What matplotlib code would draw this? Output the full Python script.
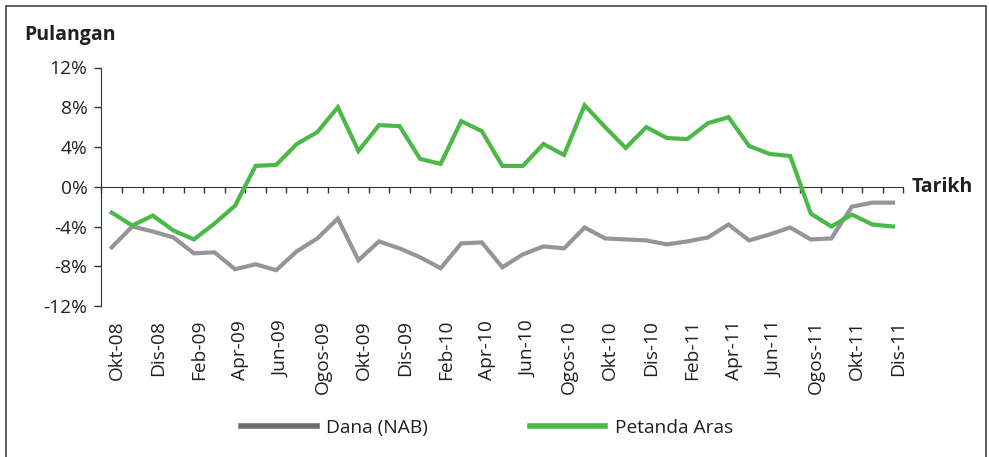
import matplotlib.pyplot as plt
from matplotlib.patches import Rectangle
from matplotlib.lines import Line2D
import matplotlib.transforms as mtransforms
import numpy as np

plt.rcParams['font.family'] = ['Open Sans', 'DejaVu Sans']

# monthly returns, Okt-08 .. Dis-11
months = ['Okt-08', 'Nov-08', 'Dis-08', 'Jan-09', 'Feb-09', 'Mac-09', 'Apr-09', 'Mei-09',
          'Jun-09', 'Jul-09', 'Ogos-09', 'Sep-09', 'Okt-09', 'Nov-09', 'Dis-09', 'Jan-10',
          'Feb-10', 'Mac-10', 'Apr-10', 'Mei-10', 'Jun-10', 'Jul-10', 'Ogos-10', 'Sep-10',
          'Okt-10', 'Nov-10', 'Dis-10', 'Jan-11', 'Feb-11', 'Mac-11', 'Apr-11', 'Mei-11',
          'Jun-11', 'Jul-11', 'Ogos-11', 'Sep-11', 'Okt-11', 'Nov-11', 'Dis-11']
dana = [-6.1, -4.0, -4.5, -5.1, -6.7, -6.6, -8.3, -7.8, -8.4, -6.5, -5.2, -3.2, -7.4,
        -5.5, -6.2, -7.1, -8.2, -5.7, -5.6, -8.1, -6.8, -6.0, -6.2, -4.1, -5.2, -5.3,
        -5.4, -5.8, -5.5, -5.1, -3.8, -5.4, -4.8, -4.1, -5.3, -5.2, -2.0, -1.6, -1.6]
petanda = [-2.6, -3.9, -2.9, -4.4, -5.3, -3.7, -1.9, 2.1, 2.2, 4.3, 5.5, 8.0, 3.6,
           6.2, 6.1, 2.8, 2.3, 6.6, 5.6, 2.1, 2.1, 4.3, 3.2, 8.2, 6.0, 3.9, 6.0, 4.9,
           4.8, 6.4, 7.0, 4.1, 3.3, 3.1, -2.7, -4.0, -2.8, -3.8, -4.0]
yticks = [-12, -8, -4, 0, 4, 8, 12]

grey = '#939598'
grey_dark = '#6d6e71'
green = '#4cb847'
txt = '#231f20'
fs = 13.8

W, H = 989, 457
fig = plt.figure(figsize=(W / 100, H / 100), dpi=100)
ax = fig.add_axes([101.4 / W, 1 - 306 / H, (903.3 - 101.4) / W, (306 - 67.5) / H])

x = np.arange(len(months))
ax.plot(x, dana, color=grey, lw=3, solid_joinstyle='miter', zorder=3)
ax.plot(x, petanda, color=green, lw=3, solid_joinstyle='miter', zorder=3)

ax.set_xlim(-0.5, len(months) - 0.5)
ax.set_ylim(-12, 12)
ax.set_yticks(yticks)
ax.set_yticklabels([f'{v}%' for v in yticks], fontsize=fs, color=txt)
ax.tick_params(axis='y', length=5, width=1, color='#333333', pad=5)

for s in ['top', 'right']:
    ax.spines[s].set_visible(False)
ax.spines['left'].set_color('#333333')
ax.spines['bottom'].set_position(('data', 0))
ax.spines['bottom'].set_color('#333333')
ax.set_xticks(np.arange(len(months) + 1) - 0.5)
ax.set_xticklabels([])
ax.tick_params(axis='x', direction='out', length=4, width=1, color='#333333')

# category labels below the plot, every second month
trans = mtransforms.blended_transform_factory(ax.transData, fig.transFigure)
for i in range(0, len(months), 2):
    ax.text(i + 0.25, 1 - 320 / H, months[i], rotation=90, ha='center', va='top',
            fontsize=fs, color=txt, transform=trans)

fig.text(24 / W, 1 - 35 / H, 'Pulangan', fontsize=14, fontweight='bold', color=txt, va='center')
fig.text(912 / W, 1 - 187 / H, 'Tarikh', fontsize=14, fontweight='bold', color=txt, va='center')

# legend
handles = [Line2D([], [], color=grey_dark, lw=4), Line2D([], [], color=green, lw=4)]
fig.legend(handles, ['Dana (NAB)', 'Petanda Aras'], loc='center', ncol=2,
           bbox_to_anchor=(487 / W, 1 - 428 / H), frameon=False, fontsize=fs,
           handlelength=3.95, columnspacing=5.3, handletextpad=0.5, labelcolor=txt)

fig.patches.append(Rectangle((5.5 / W, -0.1), (986 - 5.5) / W, 1.1 - 6 / H + 0.0,
                             transform=fig.transFigure, fill=False, ec='#444444', lw=1.2))

fig.savefig('out.png', dpi=100)
